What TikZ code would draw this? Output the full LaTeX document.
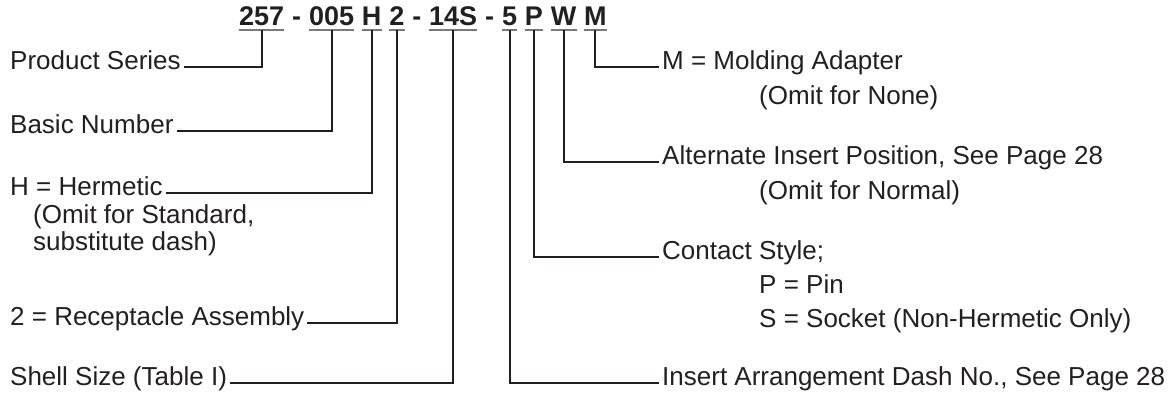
\documentclass[tikz,border=0pt]{standalone}
\usepackage{fontspec}
\setmainfont{Liberation Sans}
\usetikzlibrary{positioning}
\definecolor{ink}{HTML}{231F20}
\definecolor{ulgray}{HTML}{7A7A7A}
\tikzset{
codebox/.style={
  inner sep=0pt,
  text depth=4pt,
  text=ink,
  font=\fontsize{27}{30}\selectfont\bfseries
  },
lbl/.style={
  anchor=mid west,
  inner xsep=3pt,
  inner ysep=1pt,
  text=ink,
  font=\fontsize{26}{28}\selectfont
  },
lead/.style={draw=ink,line width=2pt},
uline/.style={draw=ulgray,line width=1.4pt}
}

\begin{document}
\begin{tikzpicture}[x=1pt,y=-1pt]
\useasboundingbox (0,0) rectangle (1176,398);

% part number
\node[codebox,anchor=base west] (c257) at (239,26) {257};
\node[codebox,base right=7.5pt of c257] (dashA) {-};
\node[codebox,base right=7.5pt of dashA] (c005) {005};
\node[codebox,base right=7.5pt of c005] (cH) {H};
\node[codebox,base right=7.5pt of cH] (c2) {2};
\node[codebox,base right=7.5pt of c2] (dashB) {-};
\node[codebox,base right=7.5pt of dashB] (c14S) {14S};
\node[codebox,base right=7.5pt of c14S] (dashC) {-};
\node[codebox,base right=7.5pt of dashC] (c5) {5};
\node[codebox,base right=7.5pt of c5] (cP) {P};
\node[codebox,base right=7.5pt of cP] (cW) {W};
\node[codebox,base right=7.5pt of cW] (cM) {M};

\foreach \n in {257,005,H,2,14S,5,P,W,M}
  \draw[uline] (c\n.south west) -- (c\n.south east);

% left labels
\node[lbl] (series) at (7,67) {Product Series};
\node[lbl] (basic) at (7,131) {Basic Number};
\node[lbl] (herm) at (7,193) {H = Hermetic};
\node[lbl] (hermA) at (30,220.5) {(Omit for Standard,};
\node[lbl] (hermB) at (30,248) {substitute dash)};
\node[lbl] (recept) at (7,323) {2 = Receptacle Assembly};
\node[lbl] (shell) at (7,383) {Shell Size (Table I)};

% right labels
\node[lbl] (mold) at (659,67) {M = Molding Adapter};
\node[lbl] (moldA) at (756,102) {(Omit for None)};
\node[lbl] (alt) at (659,162) {Alternate Insert Position, See Page 28};
\node[lbl] (altA) at (756,197) {(Omit for Normal)};
\node[lbl] (contact) at (659,257) {Contact Style;};
\node[lbl] (contactA) at (756,291) {P = Pin};
\node[lbl] (contactB) at (756,325) {S = Socket (Non-Hermetic Only)};
\node[lbl] (insert) at (659,383) {Insert Arrangement Dash No., See Page 28};

\draw[lead] (c257.south) |- (series.mid east);
\draw[lead] (c005.south) |- (basic.mid east);
\draw[lead] (cH.south) |- (herm.mid east);
\draw[lead] (c2.south) |- (recept.mid east);
\draw[lead] (c14S.south) |- (shell.mid east);

\draw[lead] (c5.south) |- (insert.mid west);
\draw[lead] (cP.south) |- (contact.mid west);
\draw[lead] (cW.south) |- (alt.mid west);
\draw[lead] (cM.south) |- (mold.mid west);

\end{tikzpicture}
\end{document}
